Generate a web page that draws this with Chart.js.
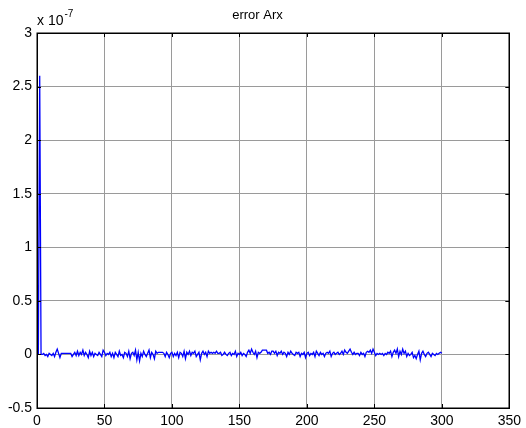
<!DOCTYPE html>
<html>
<head>
<meta charset="utf-8">
<script src="https://cdn.jsdelivr.net/npm/chart.js@4"></script>
<style>
html,body{margin:0;padding:0;background:#fff;}
#wrap{width:526px;height:428px;position:relative;}
</style>
</head>
<body>
<div id="wrap"><canvas id="c" width="526" height="428"></canvas></div>
<script>
// Sample index (0..300)
const sampleIndex = Array.from({length: 301}, (_, i) => i);
// Error values, in units of 1e-7
const errorE7 = [
  0.00, 0.00, 2.60, 0.00,
  0.00, 0.01, -0.01, 0.00, -0.02, 0.01, 0.00, -0.01, 0.01, -0.02,
  0.02, 0.05, 0.01, -0.03, 0.01, 0.01, 0.01, 0.01, 0.01, 0.01,
  0.01, 0.01, -0.02, 0.00, 0.02, -0.01, 0.03, -0.01, 0.02, 0.00,
  0.04, -0.01, 0.02, 0.00, -0.03, 0.03, -0.01, 0.02, -0.02, 0.01,
  0.00, -0.01, 0.02, 0.00, -0.02, 0.04, 0.02, -0.01, 0.01, 0.00,
  0.02, -0.02, 0.01, -0.03, 0.02, 0.00, -0.02, 0.03, -0.01, 0.00,
  -0.03, 0.02, 0.01, -0.02, 0.03, -0.04, 0.01, 0.02, -0.01, 0.04,
  -0.05, 0.02, -0.06, 0.01, -0.02, 0.03, 0.00, -0.02, 0.01, 0.04,
  -0.03, 0.02, 0.00, -0.04, 0.03, 0.01, 0.02, 0.02, 0.02, 0.02,
  0.01, -0.02, 0.02, 0.00, -0.03, 0.01, 0.02, -0.02, 0.01, -0.01,
  0.02, -0.03, 0.02, 0.01, -0.02, 0.03, -0.04, 0.02, 0.00, 0.03,
  -0.01, 0.02, 0.01, 0.03, -0.02, 0.00, 0.02, -0.05, 0.01, 0.03,
  0.00, 0.02, -0.02, 0.03, 0.01, 0.02, 0.01, 0.02, 0.01, 0.03,
  0.01, 0.01, 0.02, -0.01, 0.00, 0.02, 0.00, -0.01, 0.01, 0.02,
  -0.01, 0.01, 0.00, 0.03, -0.02, 0.01, 0.00, 0.02, -0.01, 0.01,
  0.00, -0.02, 0.02, 0.04, 0.01, 0.05, 0.02, 0.00, 0.03, -0.03,
  0.02, 0.01, 0.02, 0.04, 0.04, 0.04, 0.04, 0.01, 0.02, 0.00,
  0.03, 0.03, 0.01, 0.03, -0.01, 0.02, 0.01, 0.03, 0.00, 0.02,
  0.01, -0.02, 0.02, 0.00, 0.03, 0.01, 0.00, -0.01, 0.02, 0.01,
  0.02, -0.02, 0.01, 0.00, 0.02, -0.03, 0.01, 0.02, -0.01, 0.01,
  0.00, 0.02, -0.02, 0.03, 0.01, -0.01, 0.02, 0.00, 0.01, -0.02,
  0.01, 0.02, 0.01, 0.03, -0.02, 0.01, 0.02, 0.00, 0.01, 0.02,
  0.00, 0.01, 0.03, 0.00, 0.04, 0.02, 0.01, 0.03, 0.05, 0.02,
  0.00, 0.02, 0.00, 0.01, 0.01, -0.01, 0.02, 0.00, 0.01, -0.02,
  0.02, 0.03, 0.02, 0.04, 0.01, 0.05, 0.02, -0.01, 0.01, 0.00,
  0.01, 0.00, 0.01, -0.01, 0.01, 0.00, 0.02, 0.01, 0.03, -0.02,
  0.02, 0.04, 0.01, 0.05, -0.02, 0.03, 0.00, 0.05, 0.01, 0.03,
  -0.02, 0.01, -0.01, 0.00, 0.02, -0.03, -0.01, -0.04, 0.00, 0.03,
  -0.05, 0.01, 0.03, 0.00, -0.02, 0.01, 0.02, 0.00, -0.02, 0.01,
  0.00, -0.01, 0.01, 0.00, 0.01, 0.02, 0.01
];
const xTicks = [0, 50, 100, 150, 200, 250, 300, 350];
const yTicks = [-0.5, 0, 0.5, 1, 1.5, 2, 2.5, 3];
const titleText = 'error Arx';
const exponentBase = 'x 10';
const exponentPower = '-7';

const FONT = '"Liberation Sans", Arial, sans-serif';

const boxPlugin = {
  id: 'matlabBox',
  afterDraw(chart) {
    const {ctx, chartArea: a, scales} = chart;
    ctx.save();
    ctx.strokeStyle = '#000';
    ctx.lineWidth = 1;
    const tl = 4;
    ctx.beginPath();
    xTicks.forEach(v => {
      const px = Math.round(scales.x.getPixelForValue(v)) + 0.5;
      ctx.moveTo(px, a.bottom); ctx.lineTo(px, a.bottom - tl);
      ctx.moveTo(px, a.top); ctx.lineTo(px, a.top + tl);
    });
    yTicks.forEach(v => {
      const py = Math.round(scales.y.getPixelForValue(v)) + 0.5;
      ctx.moveTo(a.left, py); ctx.lineTo(a.left + tl, py);
      ctx.moveTo(a.right, py); ctx.lineTo(a.right - tl, py);
    });
    ctx.stroke();
    ctx.lineWidth = 1.5;
    ctx.strokeRect(Math.round(a.left) + 0.25, Math.round(a.top) + 0.25,
                   Math.round(a.right - a.left), Math.round(a.bottom - a.top));
    ctx.fillStyle = '#000';
    ctx.textBaseline = 'alphabetic';
    ctx.textAlign = 'left';
    ctx.font = '14px ' + FONT;
    ctx.fillText(exponentBase, a.left, a.top - 8);
    const w = ctx.measureText(exponentBase).width;
    ctx.font = '10px ' + FONT;
    ctx.fillText(exponentPower, a.left + w + 1, a.top - 16);
    ctx.restore();
  }
};

new Chart(document.getElementById('c'), {
  type: 'line',
  data: {
    labels: sampleIndex,
    datasets: [{
      data: sampleIndex.map((x, i) => ({x: x, y: errorE7[i]})),
      borderColor: '#0000ff',
      borderWidth: 1.3,
      pointRadius: 0,
      tension: 0,
      fill: false
    }]
  },
  options: {
    responsive: false,
    animation: false,
    layout: {padding: {left: 0, right: 11, top: 0, bottom: 0}},
    plugins: {
      legend: {display: false},
      tooltip: {enabled: false},
      title: {
        display: true,
        text: titleText,
        color: '#000',
        font: {family: FONT, size: 13, weight: 'normal'},
        padding: {top: 8, bottom: 9.4}
      }
    },
    scales: {
      x: {
        type: 'linear',
        min: 0, max: 350,
        afterBuildTicks: s => { s.ticks = xTicks.map(v => ({value: v})); },
        ticks: {color: '#000', font: {family: FONT, size: 14}, padding: 5, maxRotation: 0,
                callback: v => String(v)},
        grid: {color: '#9a9a9a', lineWidth: 1, drawTicks: false},
        border: {display: false},
        afterFit: s => { s.height = 20; }
      },
      y: {
        type: 'linear',
        min: -0.5, max: 3,
        afterBuildTicks: s => { s.ticks = yTicks.map(v => ({value: v})); },
        ticks: {color: '#000', font: {family: FONT, size: 14}, padding: 5,
                callback: v => String(v)},
        grid: {color: '#9a9a9a', lineWidth: 1, drawTicks: false},
        border: {display: false},
        afterFit: s => { s.width = 37; }
      }
    }
  },
  plugins: [boxPlugin]
});
</script>
</body>
</html>
